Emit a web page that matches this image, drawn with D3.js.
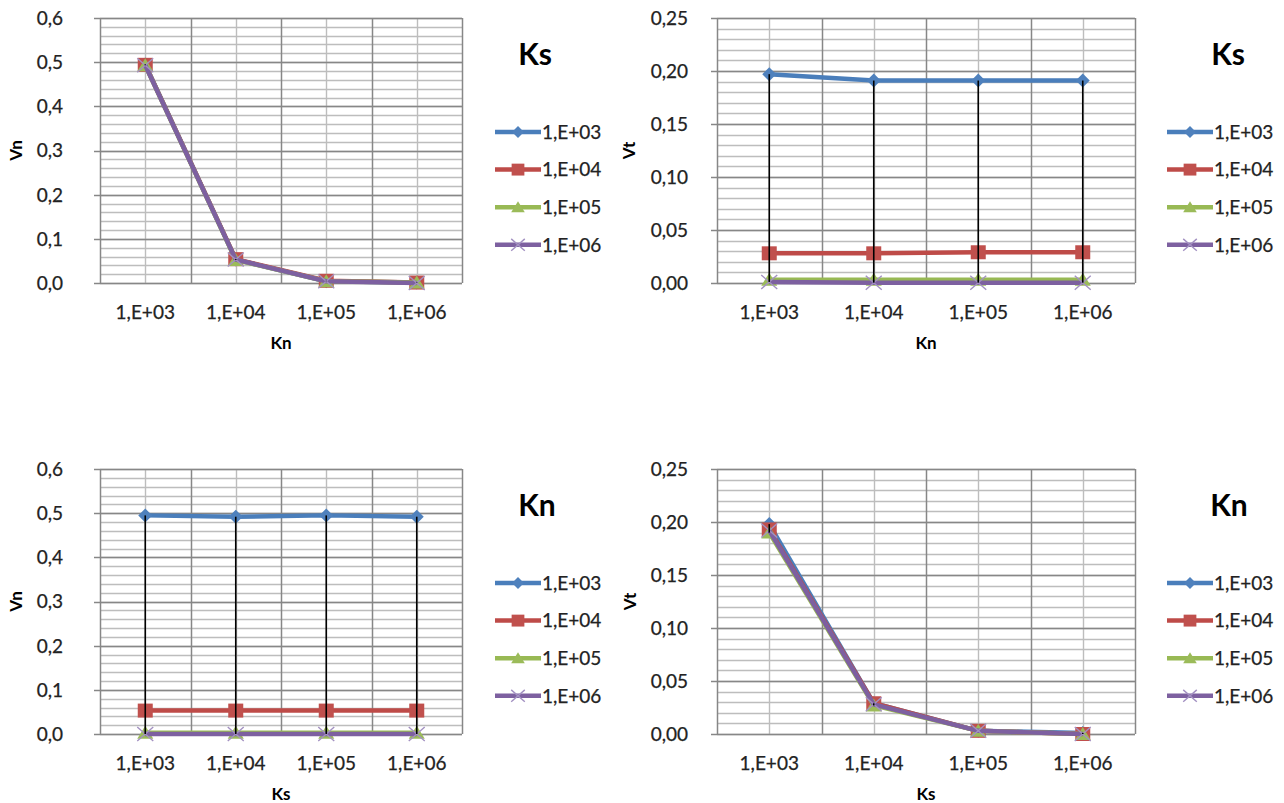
<!DOCTYPE html>
<html>
<head>
<meta charset="utf-8">
<script src="https://cdn.jsdelivr.net/npm/d3@7"></script>
<style>
    body { margin: 0; background: #fff; }
    svg { display: block; font-family: Lato, "Open Sans", sans-serif; }
    .lbl { stroke: #222; stroke-width: 0.25; }
</style>
</head>
<body>
<div id="chart"></div>
<script>
var categories = ["1,E+03", "1,E+04", "1,E+05", "1,E+06"];
var seriesNames = ["1,E+03", "1,E+04", "1,E+05", "1,E+06"];

// Vn against Kn, one line per Ks
var vnByKn = [
    [0.495, 0.053, 0.004, 0.001],
    [0.494, 0.054, 0.005, 0.001],
    [0.493, 0.052, 0.004, 0.001],
    [0.493, 0.053, 0.004, 0.000]
];
// Vt against Kn, one line per Ks
var vtByKn = [
    [0.197, 0.191, 0.191, 0.191],
    [0.028, 0.028, 0.029, 0.029],
    [0.003, 0.003, 0.003, 0.003],
    [0.001, 0.0003, 0.0003, 0.0003]
];
// Vn against Ks, one line per Kn
var vnByKs = [
    [0.495, 0.492, 0.495, 0.492],
    [0.053, 0.053, 0.053, 0.053],
    [0.003, 0.003, 0.003, 0.003],
    [0.000, 0.000, 0.000, 0.000]
];
// Vt against Ks, one line per Kn
var vtByKs = [
    [0.198, 0.029, 0.003, 0.001],
    [0.193, 0.029, 0.003, 0.000],
    [0.190, 0.027, 0.003, 0.000],
    [0.192, 0.028, 0.003, 0.000]
];

var vnTicks = [0, 0.1, 0.2, 0.3, 0.4, 0.5, 0.6];
var vtTicks = [0, 0.05, 0.10, 0.15, 0.20, 0.25];

var lineColors = ["#4a7ebb", "#be4b48", "#98b954", "#7d60a0"];
var markerColors = ["#4f81bd", "#c0504d", "#9bbb59", "#a391c2"];
var markerKinds = ["diamond", "square", "triangle", "cross"];

var charts = [
    { data: vnByKn, ticks: vnTicks, minor: 0.02, digits: 1, xTitle: "Kn", yTitle: "Vn", legendTitle: "Ks",
      left: 100, right: 462, top: 18, bottom: 283, yLabelRight: 63, yTitleX: 16, titleX: 535, legX: 495 },
    { data: vtByKn, ticks: vtTicks, minor: 0.01, digits: 2, xTitle: "Kn", yTitle: "Vt", legendTitle: "Ks",
      left: 717, right: 1135, top: 18, bottom: 283, yLabelRight: 688, yTitleX: 629, titleX: 1228, legX: 1167 },
    { data: vnByKs, ticks: vnTicks, minor: 0.02, digits: 1, xTitle: "Ks", yTitle: "Vn", legendTitle: "Kn",
      left: 100, right: 462, top: 469, bottom: 734, yLabelRight: 63, yTitleX: 16, titleX: 537, legX: 495 },
    { data: vtByKs, ticks: vtTicks, minor: 0.01, digits: 2, xTitle: "Ks", yTitle: "Vt", legendTitle: "Kn",
      left: 717, right: 1135, top: 469, bottom: 734, yLabelRight: 688, yTitleX: 630, titleX: 1229, legX: 1167 }
];

var svg = d3.select("#chart")
    .append("svg")
    .attr("width", 1284)
    .attr("height", 803);

function marker(g, kind, i, big) {
    var k = big ? 1 : 0.85;
    if (kind == "diamond") {
        g.append("path").attr("d", "M0," + (-7 * k) + "L" + (7 * k) + ",0L0," + (7 * k) + "L" + (-7 * k) + ",0Z")
            .attr("fill", markerColors[i]);
    } else if (kind == "square") {
        g.append("rect").attr("x", -7.5 * k).attr("y", -7 * k).attr("width", 15 * k).attr("height", 14 * k)
            .attr("fill", markerColors[i]);
    } else if (kind == "triangle") {
        g.append("path").attr("d", "M0," + (-7 * k) + "L" + (8 * k) + "," + (6 * k) + "L" + (-8 * k) + "," + (6 * k) + "Z")
            .attr("fill", markerColors[i]);
    } else {
        g.append("path").attr("d", "M" + (-8 * k) + "," + (-7 * k) + "L" + (8 * k) + "," + (7 * k) +
            "M" + (8 * k) + "," + (-7 * k) + "L" + (-8 * k) + "," + (7 * k))
            .attr("stroke", markerColors[i]).attr("stroke-width", 1.4).attr("fill", "none");
    }
}

function drawChart(c) {
    var g = svg.append("g");
    var x = d3.scaleBand().domain(categories).range([c.left, c.right]);
    var yMax = c.ticks[c.ticks.length - 1];
    var y = d3.scaleLinear().domain([0, yMax]).range([c.bottom, c.top]);
    var fmt = function (v) { return d3.format("." + c.digits + "f")(v).replace(".", ","); };

    // minor horizontal grid
    var minorTicks = d3.range(0, Math.round(yMax / c.minor) + 1).map(function (i) { return i * c.minor; });
    g.append("g").selectAll("line")
        .data(minorTicks)
        .enter()
        .append("line")
        .attr("x1", c.left).attr("x2", c.right)
        .attr("y1", function (d) { return Math.round(y(d)) + 0.5; })
        .attr("y2", function (d) { return Math.round(y(d)) + 0.5; })
        .attr("stroke", "#bdbdbd").attr("stroke-width", 1.4);

    // minor vertical grid at category centres
    g.append("g").selectAll("line")
        .data(categories)
        .enter()
        .append("line")
        .attr("x1", function (d) { return Math.round(x(d) + x.bandwidth() / 2) + 0.5; })
        .attr("x2", function (d) { return Math.round(x(d) + x.bandwidth() / 2) + 0.5; })
        .attr("y1", c.top).attr("y2", c.bottom)
        .attr("stroke", "#bdbdbd").attr("stroke-width", 1.4);

    // major vertical grid at category edges
    var edges = categories.map(function (d) { return x(d); }).concat([c.right]);
    g.append("g").selectAll("line")
        .data(edges)
        .enter()
        .append("line")
        .attr("x1", function (d) { return Math.round(d) + 0.5; })
        .attr("x2", function (d) { return Math.round(d) + 0.5; })
        .attr("y1", c.top).attr("y2", c.bottom)
        .attr("stroke", "#878787").attr("stroke-width", 1.5);

    // major horizontal grid with tick marks
    g.append("g").selectAll("line")
        .data(c.ticks)
        .enter()
        .append("line")
        .attr("x1", c.left - 6).attr("x2", c.right)
        .attr("y1", function (d) { return Math.round(y(d)) + 0.5; })
        .attr("y2", function (d) { return Math.round(y(d)) + 0.5; })
        .attr("stroke", "#878787").attr("stroke-width", 1.5);

    // y tick labels
    g.append("g").selectAll("text")
        .data(c.ticks)
        .enter()
        .append("text")
        .attr("class", "lbl")
        .attr("x", c.yLabelRight)
        .attr("y", function (d) { return y(d); })
        .attr("dy", "0.36em")
        .attr("text-anchor", "end")
        .attr("font-size", 19)
        .attr("fill", "#222")
        .text(fmt);

    // x tick labels
    g.append("g").selectAll("text")
        .data(categories)
        .enter()
        .append("text")
        .attr("class", "lbl")
        .attr("x", function (d) { return x(d) + x.bandwidth() / 2; })
        .attr("y", c.bottom + 36)
        .attr("text-anchor", "middle")
        .attr("font-size", 19)
        .attr("fill", "#222")
        .text(function (d) { return d; });

    // axis titles
    g.append("text")
        .attr("x", (c.left + c.right) / 2)
        .attr("y", c.bottom + 66)
        .attr("text-anchor", "middle")
        .attr("font-size", 17).attr("font-weight", "bold")
        .text(c.xTitle);
    g.append("text")
        .attr("transform", "translate(" + c.yTitleX + "," + (c.top + c.bottom) / 2 + ") rotate(-90)")
        .attr("dy", "0.36em")
        .attr("text-anchor", "middle")
        .attr("font-size", 17).attr("font-weight", "bold")
        .text(c.yTitle);

    // series: line then markers
    var line = d3.line()
        .x(function (d, j) { return x(categories[j]) + x.bandwidth() / 2; })
        .y(function (d) { return y(d); });
    c.data.forEach(function (vals, i) {
        g.append("path")
            .attr("d", line(vals))
            .attr("fill", "none")
            .attr("stroke", lineColors[i])
            .attr("stroke-width", 4.5)
            .attr("stroke-linejoin", "round");
        vals.forEach(function (v, j) {
            var m = g.append("g")
                .attr("transform", "translate(" + (x(categories[j]) + x.bandwidth() / 2) + "," + y(v) + ")");
            marker(m, markerKinds[i], i, true);
        });
    });

    // high-low lines
    g.append("g").selectAll("line")
        .data(categories)
        .enter()
        .append("line")
        .attr("x1", function (d) { return x(d) + x.bandwidth() / 2; })
        .attr("x2", function (d) { return x(d) + x.bandwidth() / 2; })
        .attr("y1", function (d, j) { return y(d3.max(c.data, function (s) { return s[j]; })); })
        .attr("y2", function (d, j) { return y(d3.min(c.data, function (s) { return s[j]; })); })
        .attr("stroke", "#000").attr("stroke-width", 1.6);

    // legend
    g.append("text")
        .attr("x", c.titleX)
        .attr("y", c.top + 47)
        .attr("text-anchor", "middle")
        .attr("font-size", 30).attr("font-weight", "bold")
        .text(c.legendTitle);
    seriesNames.forEach(function (name, i) {
        var ly = c.top + 114 + i * 37.6;
        g.append("line")
            .attr("x1", c.legX).attr("x2", c.legX + 46)
            .attr("y1", ly).attr("y2", ly)
            .attr("stroke", lineColors[i]).attr("stroke-width", 4.5);
        var m = g.append("g").attr("transform", "translate(" + (c.legX + 23) + "," + ly + ")");
        marker(m, markerKinds[i], i, false);
        g.append("text")
            .attr("class", "lbl")
            .attr("x", c.legX + 47)
            .attr("y", ly)
            .attr("dy", "0.36em")
            .attr("font-size", 19)
            .attr("fill", "#222")
            .text(name);
    });
}

charts.forEach(drawChart);
</script>
</body>
</html>
